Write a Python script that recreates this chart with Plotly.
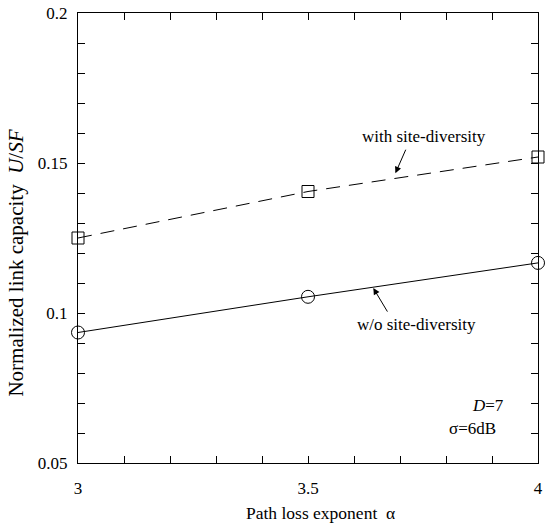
import plotly.graph_objects as go

alpha = [3.0, 3.5, 4.0]
with_sd = [0.125, 0.1405, 0.152]
without_sd = [0.0935, 0.1054, 0.1167]

x_tickvals = [3 + i * 0.1 for i in range(11)]
x_ticktext = ["3", "", "", "", "", "3.5", "", "", "", "", "4"]
y_tickvals = [0.05 + i * 0.01 for i in range(16)]
y_ticktext = ["0.05"] + [""] * 4 + ["0.1"] + [""] * 4 + ["0.15"] + [""] * 4 + ["0.2"]

FONT = "Liberation Serif"
FS = 17

fig = go.Figure()
fig.add_trace(go.Scatter(
    x=alpha, y=with_sd, mode="lines+markers",
    line=dict(color="black", width=1, dash="14px,9px"),
    marker=dict(symbol="square-open", size=12, color="black", line=dict(width=1)),
    cliponaxis=False, showlegend=False))
fig.add_trace(go.Scatter(
    x=alpha, y=without_sd, mode="lines+markers",
    line=dict(color="black", width=1),
    marker=dict(symbol="circle-open", size=13, color="black", line=dict(width=1)),
    cliponaxis=False, showlegend=False))

axis_common = dict(
    showgrid=False, zeroline=False, showline=True, linecolor="black", linewidth=1,
    mirror="ticks", ticks="inside", ticklen=7, tickcolor="black", tickwidth=1,
    tickfont=dict(family=FONT, size=FS, color="black"),
)

fig.update_layout(
    width=547, height=526,
    margin=dict(l=78, r=4, t=11, b=63),
    paper_bgcolor="white", plot_bgcolor="white",
    font=dict(family=FONT, size=FS, color="black"),
    xaxis=dict(range=[3, 4], tickmode="array", tickvals=x_tickvals, ticktext=x_ticktext,
               ticklabelstandoff=10, **axis_common),
    yaxis=dict(range=[0.05, 0.2], tickmode="array", tickvals=y_tickvals, ticktext=y_ticktext,
               ticklabelstandoff=6, **axis_common),
)

# axis titles as annotations
fig.add_annotation(xref="paper", yref="paper", x=(323 - 78) / 465, y=(463 - 513) / 452,
                   text="Path loss exponent  α", showarrow=False,
                   font=dict(family=FONT, size=17.5), xanchor="center", yanchor="middle")
fig.add_annotation(xref="paper", yref="paper", x=(15 - 78) / 465, y=(463 - 262) / 452,
                   text="Normalized link capacity  <i>U</i>/<i>SF</i>", showarrow=False, textangle=-90,
                   font=dict(family=FONT, size=21), xanchor="center", yanchor="middle")

# arrows and labels
fig.add_annotation(x=3.690, y=0.1466, ax=11, ay=-25, text="", showarrow=True,
                   arrowhead=2, arrowsize=1.3, arrowwidth=1, arrowcolor="black")
fig.add_annotation(x=3.613, y=0.1588, text="with site-diversity", showarrow=False,
                   font=dict(family=FONT, size=FS), xanchor="left", yanchor="middle")
fig.add_annotation(x=3.642, y=0.1083, ax=15, ay=25, text="", showarrow=True,
                   arrowhead=2, arrowsize=1.3, arrowwidth=1, arrowcolor="black")
fig.add_annotation(x=3.602, y=0.0962, text="w/o site-diversity", showarrow=False,
                   font=dict(family=FONT, size=FS), xanchor="left", yanchor="middle")
fig.add_annotation(x=3.93, y=0.0693, text="<i>D</i>=7", showarrow=False,
                   font=dict(family=FONT, size=FS), xanchor="right", yanchor="middle")
fig.add_annotation(x=3.914, y=0.0616, text="σ=6dB", showarrow=False,
                   font=dict(family=FONT, size=FS), xanchor="right", yanchor="middle")

fig.write_html("out.html")
